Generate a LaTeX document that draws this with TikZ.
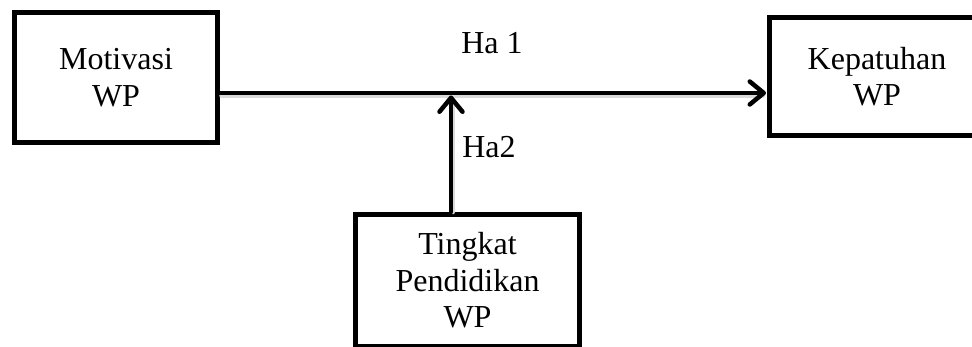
\documentclass[tikz,border=0pt]{standalone}
\usepackage{fontspec}
\setmainfont{Liberation Serif}
\usetikzlibrary{arrows.meta}
\begin{document}
\begin{tikzpicture}[x=1pt,y=-1pt,
  varbox/.style={draw=black,line width=5pt,rectangle,inner sep=0pt,
    align=center,font=\fontsize{32}{36.5}\selectfont},
  lbl/.style={inner sep=0pt,font=\fontsize{32}{36.5}\selectfont},
  link/.style={line width=4.5pt,line cap=round,
    -{Straight Barb[length=14pt,width=23pt,line cap=round,line join=round]}},
  linkshadow/.style={line width=4.5pt,draw=black!15,line cap=round}]
\useasboundingbox (0,0) rectangle (972,347);
\begin{scope}
\clip (0,0) rectangle (972,347);
\node[varbox,minimum width=203pt,minimum height=130pt] (mot) at (116,77.5) {Motivasi\\WP};
\node[varbox,minimum width=215pt,minimum height=118pt] (kep) at (877,76.5) {Kepatuhan\\WP};
\node[varbox,minimum width=224pt,minimum height=132pt] (tp) at (467.5,280.5) {Tingkat\\Pendidikan\\WP};
\end{scope}
\coordinate (j) at (451,93);
\node[lbl] (h1) at (492,43) {Ha 1};
\node[lbl] (h2) at (489,147) {Ha2};
% soft shadows under the connectors
\draw[linkshadow] ([xshift=1.5pt,yshift=-2.5pt]mot.east |- j) -- ([xshift=-4pt,yshift=-2.5pt]kep.west |- j);
\draw[linkshadow] ([xshift=2pt]j |- tp.north) -- ([xshift=2pt,yshift=-10pt]j);
% connectors
\draw[link] (mot.east |- j) -- ([xshift=-1pt]kep.west |- j);
\draw[link] (j |- tp.north) -- ([yshift=-2.5pt]j);
\end{tikzpicture}
\end{document}
